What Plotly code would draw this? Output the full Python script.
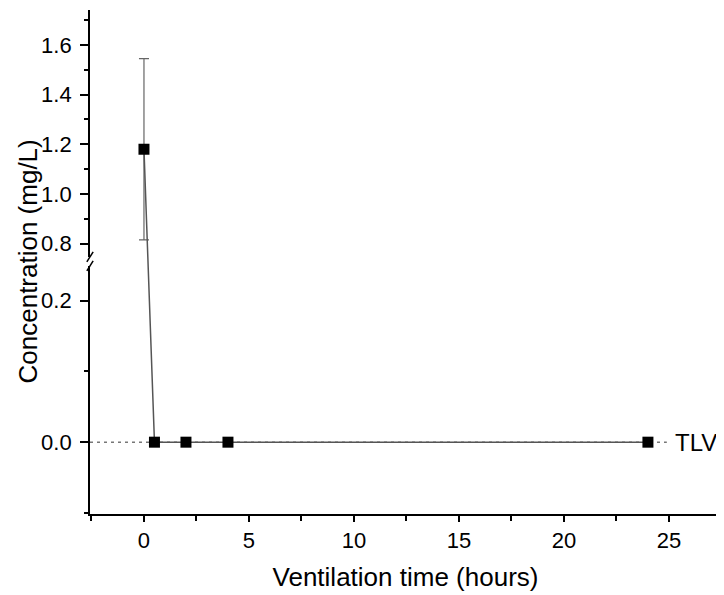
import plotly.graph_objects as go

# ---- data ----
time_h = [0, 0.5, 2, 4, 24]
conc = [1.18, 0, 0, 0, 0]
conc_err = [0.365, 0, 0, 0, 0]
TLV = 0.0

x_ticks = [0, 5, 10, 15, 20, 25]
lower_ticks = [0.0, 0.2]
upper_ticks = [0.8, 1.0, 1.2, 1.4, 1.6]

FONT = "Liberation Sans, Arial, sans-serif"

fig = go.Figure()

# placeholders so the two visible axis segments get drawn
fig.add_trace(go.Scatter(x=[], y=[], yaxis="y", showlegend=False, hoverinfo="skip"))
fig.add_trace(go.Scatter(x=[], y=[], yaxis="y2", showlegend=False, hoverinfo="skip"))

fig.add_trace(go.Scatter(
    x=time_h, y=conc, yaxis="y3", mode="lines+markers",
    line=dict(color="#555555", width=1.5),
    marker=dict(symbol="square", size=11, color="black"),
    error_y=dict(type="data", array=conc_err, visible=True,
                 color="#666666", thickness=1.2, width=5),
    showlegend=False,
))

X0, X1 = -2.57, 27.48

fig.update_layout(
    width=716, height=587,
    margin=dict(l=82, r=3, t=2, b=81),
    paper_bgcolor="white", plot_bgcolor="white",
    font=dict(family=FONT, size=22, color="black"),
    xaxis=dict(
        range=[X0, X1], anchor="y",
        tickmode="array", tickvals=x_ticks, ticktext=[str(v) for v in x_ticks],
        ticks="outside", ticklen=6, tickwidth=1.5, tickcolor="black",
        minor=dict(tickmode="array", tickvals=[-2.5, 2.5, 7.5, 12.5, 17.5, 22.5, 27.5],
                   ticks="outside", ticklen=5, tickwidth=1.5, tickcolor="black"),
        showline=True, linecolor="black", linewidth=1.8,
        showgrid=False, zeroline=False,
        title=dict(text="Ventilation time (hours)", font=dict(size=26), standoff=16),
    ),
    yaxis=dict(
        domain=[0, 0.4924], range=[-0.1015, 0.249], anchor="x",
        tickmode="array", tickvals=lower_ticks, ticktext=["0.0", "0.2"],
        ticks="outside", ticklen=8, tickwidth=1.5, tickcolor="black",
        ticklabelstandoff=4,
        minor=dict(tickmode="array", tickvals=[-0.1, 0.1],
                   ticks="outside", ticklen=4, tickwidth=1.5, tickcolor="black"),
        showline=True, linecolor="black", linewidth=1.8,
        showgrid=False, zeroline=False,
    ),
    yaxis2=dict(
        domain=[0.5102, 1], range=[0.7465, 1.7409], anchor="x",
        tickmode="array", tickvals=upper_ticks, ticktext=[f"{v:.1f}" for v in upper_ticks],
        ticks="outside", ticklen=8, tickwidth=1.5, tickcolor="black",
        ticklabelstandoff=4,
        minor=dict(tickmode="array", tickvals=[0.9, 1.1, 1.3, 1.5, 1.7],
                   ticks="outside", ticklen=4, tickwidth=1.5, tickcolor="black"),
        showline=True, linecolor="black", linewidth=1.8,
        showgrid=False, zeroline=False,
    ),
    yaxis3=dict(
        domain=[0, 1], range=[-0.2893, 1.7409], anchor="x",
        visible=False, showgrid=False, zeroline=False,
    ),
)

# TLV reference line
fig.add_shape(type="line", xref="x", yref="y3", x0=X0, x1=24.9, y0=TLV, y1=TLV,
              line=dict(color="#777777", width=1.5, dash="3px,4px"), layer="below")
fig.add_annotation(x=25.19, y=TLV, xref="x", yref="y3", text="TLV", showarrow=False,
                   xanchor="left", yanchor="middle", font=dict(size=24, color="black"))

# axis break marks
for yc in (0.5102, 0.4924):
    fig.add_shape(type="line", xref="paper", yref="paper",
                  x0=-0.005, x1=0.005, y0=yc - 0.01, y1=yc + 0.01,
                  line=dict(color="black", width=1.5))

# y-axis title spanning both segments
fig.add_annotation(x=-0.0967, y=0.501, xref="paper", yref="paper",
                   text="Concentration (mg/L)", textangle=-90, showarrow=False,
                   xanchor="center", yanchor="middle", font=dict(size=26))

fig.write_html("out.html")
